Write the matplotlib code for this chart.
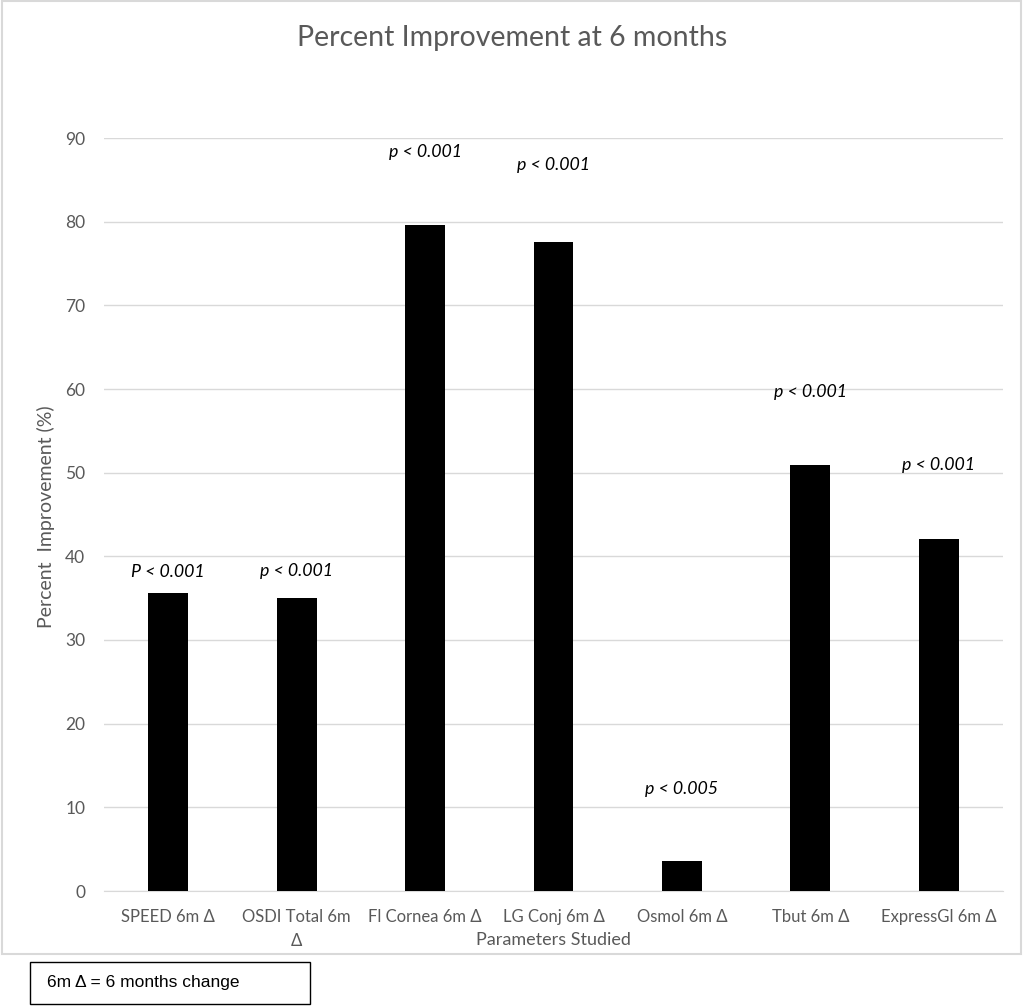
import matplotlib
matplotlib.use("Agg")
import matplotlib.pyplot as plt
from matplotlib.patches import Rectangle

categories = ["SPEED 6m Δ", "OSDI Total 6m\nΔ", "Fl Cornea 6m Δ", "LG Conj 6m Δ",
              "Osmol 6m Δ", "Tbut 6m Δ", "ExpressGl 6m Δ"]
values = [35.6, 35.0, 79.6, 77.6, 3.6, 50.9, 42.1]
p_labels = ["P < 0.001", "p < 0.001", "p < 0.001", "p < 0.001",
            "p < 0.005", "p < 0.001", "p < 0.001"]
p_heights = [38.1, 38.2, 88.3, 86.8, 12.2, 59.6, 50.9]

grey = "#595959"
plt.rcParams['font.family'] = ['Lato', 'DejaVu Sans']

fig = plt.figure(figsize=(10.24, 10.06), dpi=100)
ax = fig.add_axes([104 / 1024, 1 - 891 / 1006, 899 / 1024, 753 / 1006])

x = list(range(len(categories)))
ax.bar(x, values, width=0.31, color="black", zorder=3)
for xi, lab, h in zip(x, p_labels, p_heights):
    ax.text(xi, h, lab, ha="center", va="center", fontsize=12.8, style="italic",
            color="black")

ax.set_xlim(-0.5, len(categories) - 0.5)
ax.set_ylim(0, 90)
ax.set_yticks(range(0, 91, 10))
ax.set_xticks(x)
ax.set_xticklabels(categories, fontsize=12, color=grey, linespacing=1.6)
ax.tick_params(axis="y", labelsize=12.5, labelcolor=grey, length=0, pad=13.5)
ax.tick_params(axis="x", length=0, pad=13)
ax.grid(axis="y", color="#d9d9d9", linewidth=1, zorder=0)
for s in ["left", "right", "top"]:
    ax.spines[s].set_visible(False)
ax.spines["bottom"].set_color("#d9d9d9")
ax.set_xlabel("Parameters Studied", fontsize=13, color=grey, labelpad=-12)
ax.set_ylabel("Percent  Improvement (%)", fontsize=14, color=grey)
ax.yaxis.set_label_coords(-49 / 899, 0.497)

fig.text(0.5, 1 - 38 / 1006, "Percent Improvement at 6 months", ha="center",
         va="center", fontsize=20.5, color=grey)

# chart frame
fig.patches.append(Rectangle((2 / 1024, 1 - 954 / 1006), 1019 / 1024, 953 / 1006,
                             transform=fig.transFigure, fill=False,
                             edgecolor="#d9d9d9", linewidth=1.5))
# note box
fig.patches.append(Rectangle((30 / 1024, 1 - 1004 / 1006), 280 / 1024, 42 / 1006,
                             transform=fig.transFigure, fill=False,
                             edgecolor="black", linewidth=1))
fig.text(47 / 1024, 1 - 983 / 1006, "6m Δ = 6 months change", ha="left",
         va="center", fontsize=12.5, family=["Liberation Sans", "DejaVu Sans"])

fig.savefig("out.png", dpi=100)
